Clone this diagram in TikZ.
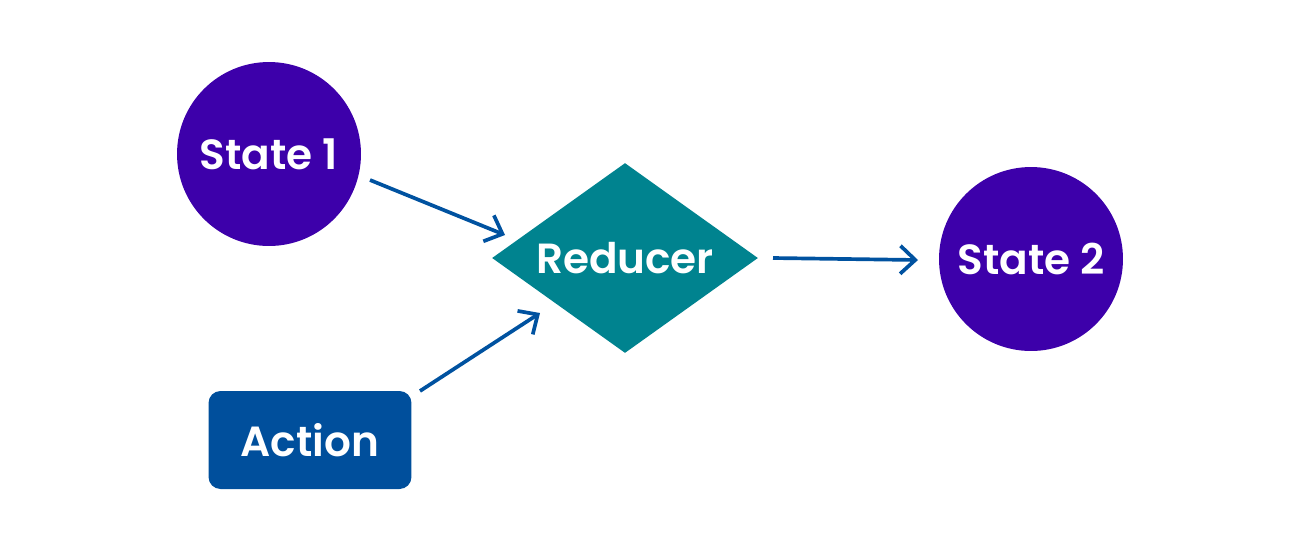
\documentclass[tikz,border=0pt]{standalone}
\usepackage{fontspec}
\setmainfont{Poppins}[BoldFont={Poppins SemiBold}]
\usetikzlibrary{shapes.geometric,arrows.meta}
\definecolor{statepurple}{HTML}{3D00AA}
\definecolor{reducerteal}{HTML}{00838F}
\definecolor{actionblue}{HTML}{004F9C}
\definecolor{arrowblue}{HTML}{0052A0}

\begin{document}
\begin{tikzpicture}[x=0.02cm,y=-0.02cm,
	->,>={Straight Barb[length=3mm,width=5.6mm]},
	label/.style={text=white,font=\fontsize{24}{28}\selectfont\bfseries},
	state/.style={label,circle,fill=statepurple,minimum size=3.68cm,inner sep=0pt},
	reducer/.style={label,diamond,fill=reducerteal,minimum width=5.32cm,minimum height=3.8cm,aspect=1.4,inner sep=0pt},
	action/.style={label,rectangle,rounded corners=0.24cm,fill=actionblue,minimum width=4.06cm,minimum height=1.96cm},
	flow/.style={draw=arrowblue,line width=2.1pt}]
\useasboundingbox (0,0) rectangle (1301,556);
\node [state] (s1) at (269,154) {State 1};
\node [reducer] (red) at (625,258) {Reducer};
\node [state] (s2) at (1031,259) {State 2};
\node [action] (act) at (310,440) {Action};
% arrow ends
\coordinate (s1out) at (370,180);
\coordinate (redin1) at (505,235);
\coordinate (actout) at (420,391);
\coordinate (redin2) at (540,313);
\coordinate (redout) at (773,258);
\coordinate (s2in) at (918,260);
	\draw [flow] (s1out) to (redin1);
	\draw [flow] (actout) to (redin2);
	\draw [flow] (redout) to (s2in);
\end{tikzpicture}
\end{document}
